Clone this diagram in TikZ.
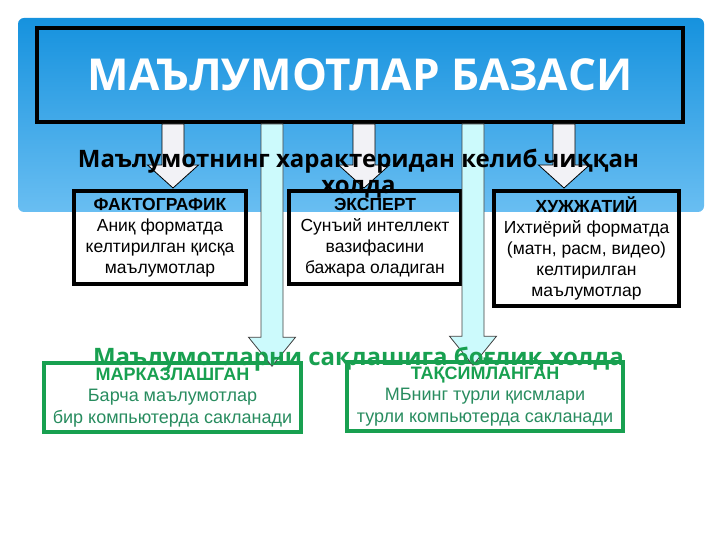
\documentclass[tikz,border=0pt]{standalone}
\usepackage{fontspec}
\setmainfont{Liberation Sans}
\newfontfamily\titlefont{Open Sans}
\usetikzlibrary{calc}

\definecolor{bgtop}{RGB}{22,146,222}
\definecolor{bgbottom}{RGB}{105,190,242}
\definecolor{keepgreen}{RGB}{24,160,80}
\definecolor{keeptext}{RGB}{40,140,95}
\definecolor{shortfill}{RGB}{242,242,246}
\definecolor{longfill}{RGB}{204,250,252}

% block arrow pointing down: x, from node, to node, tip offset, head half width, head length, style
\newcommand{\blockdown}[7]{%
  \draw[#7] let \p1=(#2.south), \p2=(#3.north) in
    (#1pt-11pt,\y1) -- (#1pt+11pt,\y1) -- (#1pt+11pt,\y2-#4pt+#6pt)
    -- (#1pt+#5pt,\y2-#4pt+#6pt) -- (#1pt,\y2-#4pt)
    -- (#1pt-#5pt,\y2-#4pt+#6pt) -- (#1pt-11pt,\y2-#4pt+#6pt) -- cycle;}

\begin{document}
\begin{tikzpicture}[x=1pt,y=-1pt,
    titlebox/.style={draw=black, line width=4pt, minimum width=646pt, minimum height=94pt, inner sep=0pt, text=white, font=\titlefont\bfseries\fontsize{44}{50}\selectfont},
    kindbox/.style={draw=black, line width=4pt, align=center, inner sep=0pt, font=\fontsize{17.5}{21}\selectfont},
    storebox/.style={draw=keepgreen, line width=3.5pt, align=center, inner sep=0pt, text=keeptext, font=\fontsize{18}{21.5}\selectfont},
    caption/.style={align=center, inner sep=0pt, font=\titlefont\bfseries\fontsize{24}{26}\selectfont},
    shortarr/.style={draw=black, line width=0.8pt, fill=shortfill},
    longarr/.style={draw=black!75, line width=0.8pt, fill=longfill}
]
\useasboundingbox (0,0) rectangle (720,540);
% blue backdrop behind the upper part
\shade[top color=bgtop, bottom color=bgbottom, rounded corners=6pt] (18,18) rectangle (704,212);

\node[titlebox] (title) at (360,75) {\raisebox{-2pt}{МАЪЛУМОТЛАР БАЗАСИ}};

\node[kindbox, minimum width=172pt, minimum height=93pt] (fact) at (160,237.5)
  {\textbf{ФАКТОГРАФИК}\\Аниқ форматда\\келтирилган қисқа\\маълумотлар};
\node[kindbox, minimum width=172pt, minimum height=93pt] (expert) at (375,237.5)
  {\textbf{ЭКСПЕРТ}\\Сунъий интеллект\\вазифасини\\бажара оладиган};
\node[kindbox, minimum width=185pt, minimum height=115pt] (doc) at (586.5,248.5)
  {\textbf{ХУЖЖАТИЙ}\\Ихтиёрий форматда\\(матн, расм, видео)\\келтирилган\\маълумотлар};

\node[storebox, minimum width=257pt, minimum height=69pt] (central) at (172.5,397.5)
  {\textcolor{keepgreen}{\textbf{МАРКАЗЛАШГАН}}\\Барча маълумотлар\\бир компьютерда сакланади};
\node[storebox, minimum width=276pt, minimum height=69pt] (spread) at (485,396.5)
  {\textcolor{keepgreen}{\textbf{ТАҚСИМЛАНГАН}}\\МБнинг турли қисмлари\\турли компьютерда сакланади};

% arrows
\blockdown{272}{title}{central}{5}{23.5}{29}{longarr}
\blockdown{473}{title}{spread}{5}{23.5}{29}{longarr}
\blockdown{173}{title}{fact}{-1}{25.5}{23}{shortarr}
\blockdown{364}{title}{expert}{-1}{25.5}{23}{shortarr}
\blockdown{564}{title}{doc}{-1}{25.5}{23}{shortarr}

\node[caption] (kindtext) at (358.5,174) {Маълумотнинг характеридан келиб чиққан\\холда};
\node[caption, text=keepgreen, anchor=base] (storetext) at (358.5,365) {Маълумотларни сақлашига боғлиқ холда};
\end{tikzpicture}
\end{document}
